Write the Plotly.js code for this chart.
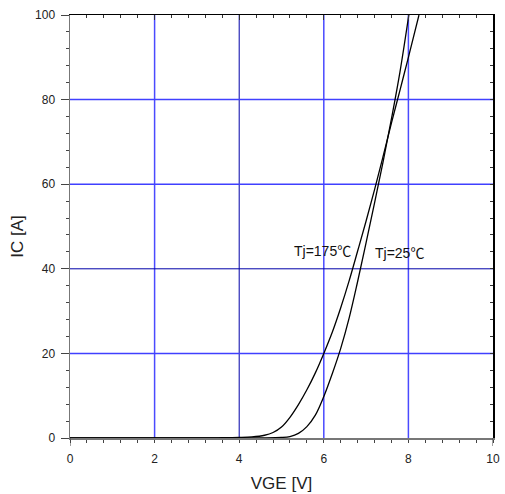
<!DOCTYPE html>
<html>
<head>
<meta charset="utf-8">
<script src="https://cdn.plot.ly/plotly-3.0.1.min.js"></script>
<style>
  html, body { margin: 0; padding: 0; background: #fff; }
  #chart { width: 505px; height: 494px; }
</style>
</head>
<body>
<div id="chart"></div>
<script>
// Tj = 175 °C transfer curve (VGE [V], IC [A])
const vge175 = [0, 1, 2, 3, 3.5, 4.0, 4.3, 4.6, 4.8, 5.0, 5.2, 5.4, 5.6, 5.8, 6.0, 6.2, 6.4, 6.6, 6.8, 7.0, 7.2, 7.4, 7.6, 7.8, 8.0, 8.25];
const ic175  = [0, 0, 0.01, 0.02, 0.05, 0.12, 0.25, 0.65, 1.3, 2.6, 4.9, 7.9, 11.4, 15.4, 20, 25.0, 30.8, 37.2, 44.2, 51.3, 58.7, 66.5, 74.5, 82.2, 90, 100];

// Tj = 25 °C transfer curve
const vge25 = [0, 1, 2, 3, 4.0, 4.5, 5.0, 5.2, 5.4, 5.6, 5.8, 6.0, 6.2, 6.4, 6.6, 6.8, 7.0, 7.2, 7.4, 7.6, 7.8, 8.01];
const ic25  = [0, 0, 0, 0, 0.01, 0.03, 0.12, 0.35, 1.1, 2.7, 5.4, 9.8, 15.2, 21.2, 28.4, 37.0, 46.2, 55.6, 65.2, 75.5, 86.5, 100];

const curveLabels = ["Tj=175℃", "Tj=25℃"];
const xTicks = [0, 2, 4, 6, 8, 10];
const yTicks = [0, 20, 40, 60, 80, 100];
const xGridBlue = [2, 6, 8];
const xGridDark = [4];
const yGridBlue = [20, 60, 80];
const yGridDark = [40];

const FONT = "Arial, 'Liberation Sans', 'Noto Sans CJK JP', sans-serif";

const traces = [
  { x: vge175, y: ic175, mode: "lines", line: { color: "#000", width: 1.3, shape: "spline", smoothing: 1 }, hoverinfo: "skip", showlegend: false },
  { x: vge25,  y: ic25,  mode: "lines", line: { color: "#000", width: 1.3, shape: "spline", smoothing: 1 }, hoverinfo: "skip", showlegend: false },
  // carrier for mirrored top/right axes
  { x: [0, 10], y: [0, 100], xaxis: "x2", yaxis: "y2", mode: "lines", line: { width: 0, color: "rgba(0,0,0,0)" }, hoverinfo: "skip", showlegend: false }
];

const shapes = [];
xGridBlue.forEach(v => shapes.push({ type: "line", xref: "x", yref: "paper", x0: v, x1: v, y0: 0, y1: 1, line: { color: "#4a4aff", width: 1.5 }, layer: "below" }));
xGridDark.forEach(v => shapes.push({ type: "line", xref: "x", yref: "paper", x0: v, x1: v, y0: 0, y1: 1, line: { color: "#0000a8", width: 1 }, layer: "below" }));
yGridBlue.forEach(v => shapes.push({ type: "line", xref: "paper", yref: "y", x0: 0, x1: 1, y0: v, y1: v, line: { color: "#4040ff", width: 1.5 }, layer: "below" }));
yGridDark.forEach(v => shapes.push({ type: "line", xref: "paper", yref: "y", x0: 0, x1: 1, y0: v, y1: v, line: { color: "#0000a8", width: 1 }, layer: "below" }));
// longer end ticks on the bottom axis
[xTicks[0], xTicks[xTicks.length - 1]].forEach(v => shapes.push({ type: "line", xref: "x", yref: "paper", x0: v, x1: v, y0: 0, y1: -8 / 423, line: { color: "#444", width: 1 } }));

const layout = {
  width: 505, height: 494,
  margin: { l: 70, r: 12, t: 15, b: 56 },
  paper_bgcolor: "#fff", plot_bgcolor: "#fff",
  font: { family: FONT, size: 12, color: "#222" },
  showlegend: false,
  xaxis: {
    range: [0, 10], tickvals: xTicks, ticktext: xTicks.map(String),
    showgrid: false, zeroline: false,
    showline: true, linecolor: "#777", linewidth: 1.5,
    ticks: "outside", ticklen: 3, tickcolor: "#444", tickwidth: 1,
    minor: { dtick: 0.4, tick0: 0, ticks: "outside", ticklen: 3, tickcolor: "#444", showgrid: false },
    tickfont: { size: 12, family: FONT, color: "#222" }, ticklabelstandoff: 6,
    title: { text: "VGE [V]", font: { size: 17, family: FONT, color: "#222" }, standoff: 12 },
    fixedrange: true
  },
  yaxis: {
    range: [0, 100], tickvals: yTicks, ticktext: yTicks.map(String),
    showgrid: false, zeroline: false,
    showline: true, linecolor: "#777", linewidth: 1.5,
    ticks: "outside", ticklen: 8, tickcolor: "#444", tickwidth: 1,
    minor: { dtick: 4, tick0: 0, ticks: "outside", ticklen: 3, tickcolor: "#444", showgrid: false },
    tickfont: { size: 12, family: FONT, color: "#222" }, ticklabelstandoff: 3,
    fixedrange: true
  },
  xaxis2: {
    overlaying: "x", side: "top", anchor: "y2", range: [0, 10],
    tickvals: xTicks, showticklabels: false, showgrid: false, zeroline: false,
    showline: true, linecolor: "#000", linewidth: 1.5,
    ticks: "inside", ticklen: 5, tickcolor: "#333",
    minor: { dtick: 0.4, tick0: 0, ticks: "inside", ticklen: 3, tickcolor: "#333", showgrid: false },
    fixedrange: true
  },
  yaxis2: {
    overlaying: "y", side: "right", anchor: "x2", range: [0, 100],
    tickvals: yTicks, showticklabels: false, showgrid: false, zeroline: false,
    showline: true, linecolor: "#000", linewidth: 1.5,
    ticks: "inside", ticklen: 3, tickcolor: "#333",
    minor: { dtick: 4, tick0: 0, ticks: "inside", ticklen: 3, tickcolor: "#333", showgrid: false },
    fixedrange: true
  },
  shapes: shapes,
  annotations: [
    { x: 5.98, y: 44.2, xref: "x", yref: "y", text: curveLabels[0], showarrow: false, font: { size: 14, family: FONT, color: "#111" } },
    { x: 7.80, y: 43.8, xref: "x", yref: "y", text: curveLabels[1], showarrow: false, font: { size: 14, family: FONT, color: "#111" } },
    { x: -0.123, y: 47.8, xref: "paper", yref: "y", xanchor: "center", yanchor: "middle", text: "IC [A]", textangle: -90, showarrow: false, font: { size: 17, family: FONT, color: "#222" } }
  ]
};

Plotly.newPlot("chart", traces, layout, { staticPlot: true, displayModeBar: false });
</script>
</body>
</html>
